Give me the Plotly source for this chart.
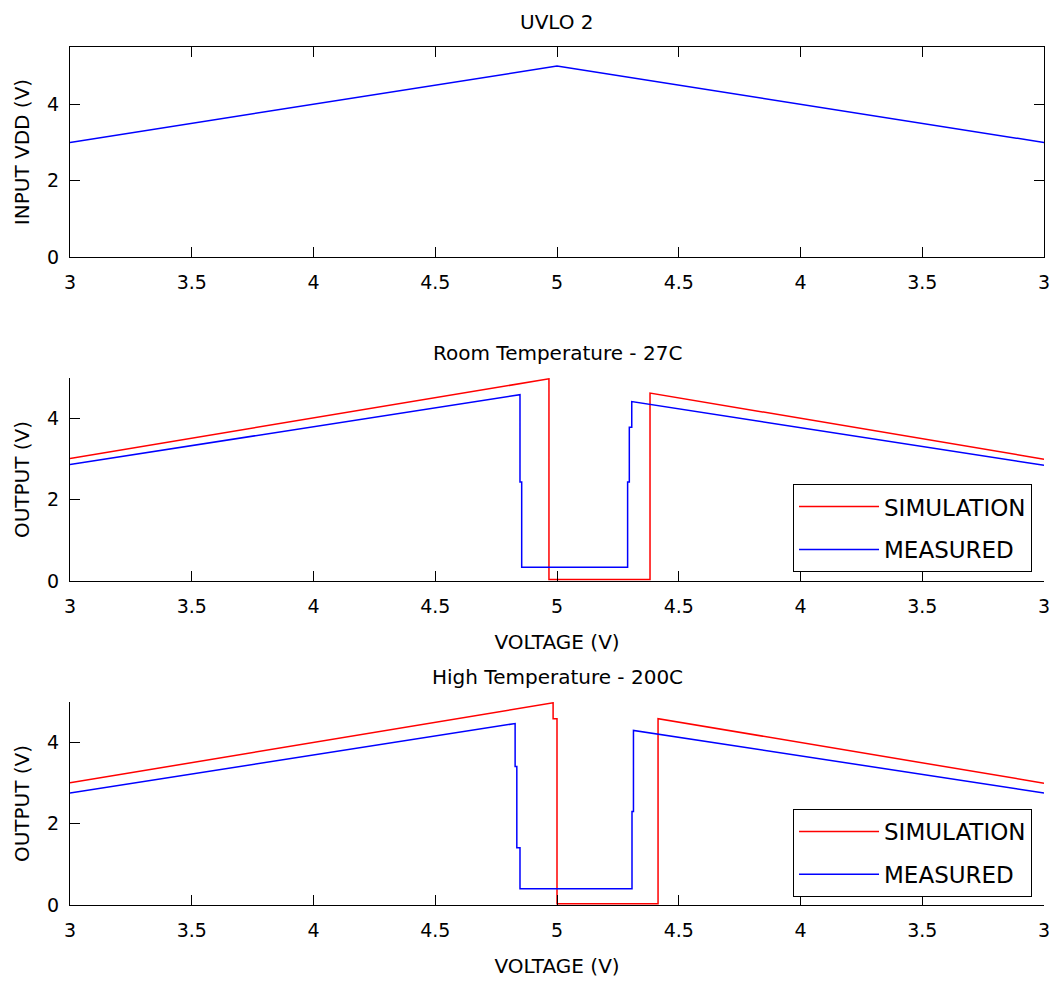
import plotly.graph_objects as go

# ---- data ----
# x axis: position along the VDD sweep (3 V -> 5 V -> 3 V), labelled with VDD
tick_pos = [0, 0.5, 1, 1.5, 2, 2.5, 3, 3.5, 4]
tick_labels = ["3", "3.5", "4", "4.5", "5", "4.5", "4", "3.5", "3"]

vdd_pos = [0, 2, 4]
vdd_val = [3.0, 5.0, 3.0]

room_sim_pos = [0, 1.967, 1.967, 2.382, 2.382, 4]
room_sim_val = [3.02, 4.98, 0.04, 0.04, 4.63, 3.0]
room_meas_pos = [0, 1.848, 1.848, 1.855, 1.855, 2.290, 2.290, 2.297, 2.297, 2.307, 2.307, 4]
room_meas_val = [2.87, 4.59, 2.44, 2.44, 0.34, 0.34, 2.44, 2.44, 3.79, 3.79, 4.42, 2.85]

high_sim_pos = [0, 1.984, 1.984, 2.0, 2.0, 2.415, 2.415, 4]
high_sim_val = [3.01, 4.98, 4.59, 4.59, 0.03, 0.03, 4.59, 3.0]
high_meas_pos = [0, 1.828, 1.828, 1.835, 1.835, 1.848, 1.848, 2.308, 2.308, 2.314, 2.314, 4]
high_meas_val = [2.76, 4.47, 3.41, 3.41, 1.41, 1.41, 0.40, 0.40, 2.30, 2.30, 4.30, 2.76]

RED = "#ff0000"
BLUE = "#0000ff"
FONT = "DejaVu Sans"

fig = go.Figure()

fig.add_trace(go.Scatter(x=vdd_pos, y=vdd_val, mode="lines", line=dict(color=BLUE, width=1.5),
                         xaxis="x", yaxis="y", showlegend=False, name="INPUT VDD"))

fig.add_trace(go.Scatter(x=room_sim_pos, y=room_sim_val, mode="lines", line=dict(color=RED, width=1.5),
                         xaxis="x2", yaxis="y2", name="SIMULATION", legend="legend", legendgroup="a"))
fig.add_trace(go.Scatter(x=room_meas_pos, y=room_meas_val, mode="lines", line=dict(color=BLUE, width=1.5),
                         xaxis="x2", yaxis="y2", name="MEASURED", legend="legend", legendgroup="b"))

fig.add_trace(go.Scatter(x=high_sim_pos, y=high_sim_val, mode="lines", line=dict(color=RED, width=1.5),
                         xaxis="x3", yaxis="y3", name="SIMULATION", legend="legend2", legendgroup="c"))
fig.add_trace(go.Scatter(x=high_meas_pos, y=high_meas_val, mode="lines", line=dict(color=BLUE, width=1.5),
                         xaxis="x3", yaxis="y3", name="MEASURED", legend="legend2", legendgroup="d"))


def xax(anchor, title=None, mirror=False):
    d = dict(anchor=anchor, domain=[0, 1], range=[0, 4], tickmode="array", tickvals=tick_pos,
             ticktext=tick_labels, ticks="inside", ticklen=10, tickcolor="black", showline=True,
             linecolor="black", linewidth=1, showgrid=False, zeroline=False, mirror=mirror,
             tickfont=dict(family=FONT, size=19, color="black"), ticklabelstandoff=8, automargin=False)
    if title:
        d["title"] = dict(text=title, font=dict(family=FONT, size=20, color="black"), standoff=19)
    return d


def yax(anchor, domain, rng, title, mirror=False):
    return dict(anchor=anchor, domain=domain, range=rng, tickmode="array", tickvals=[0, 2, 4],
                ticks="inside", ticklen=10, tickcolor="black", showline=True, linecolor="black",
                linewidth=1, showgrid=False, zeroline=False, mirror=mirror,
                tickfont=dict(family=FONT, size=19, color="black"), ticklabelstandoff=6,
                automargin=False,
                title=dict(text=title, font=dict(family=FONT, size=20, color="black"), standoff=12))


leg_common = dict(xanchor="right", yanchor="bottom", x=0.9877, bgcolor="white", bordercolor="black",
                  borderwidth=1, font=dict(family=FONT, size=23, color="black"),
                  tracegroupgap=10, traceorder="grouped", itemwidth=80)

fig.update_layout(
    width=1054, height=983,
    margin=dict(l=70, r=10, t=47, b=78),
    paper_bgcolor="white", plot_bgcolor="white",
    font=dict(family=FONT, color="black"),
    xaxis=xax("y", mirror="ticks"),
    yaxis=yax("x", [0.7552, 1.0], [0, 5.5], "INPUT VDD (V)", mirror="ticks"),
    xaxis2=xax("y2", title="VOLTAGE (V)"),
    yaxis2=yax("x2", [0.3776, 0.6142], [0, 5], "OUTPUT (V)"),
    xaxis3=xax("y3", title="VOLTAGE (V)"),
    yaxis3=yax("x3", [0.0, 0.2366], [0, 5], "OUTPUT (V)"),
    legend=dict(y=0.388, **leg_common),
    legend2=dict(y=0.0093, **leg_common),
    annotations=[
        dict(text="UVLO 2", xref="paper", yref="paper", x=0.5, y=1.0, yanchor="middle", yshift=25,
             showarrow=False, font=dict(family=FONT, size=20, color="black")),
        dict(text="Room Temperature - 27C", xref="paper", yref="paper", x=0.5, y=0.6142, yanchor="middle",
             yshift=25, showarrow=False, font=dict(family=FONT, size=20, color="black")),
        dict(text="High Temperature - 200C", xref="paper", yref="paper", x=0.5, y=0.2366, yanchor="middle",
             yshift=25, showarrow=False, font=dict(family=FONT, size=20, color="black")),
    ],
)

fig.write_html("out.html")
